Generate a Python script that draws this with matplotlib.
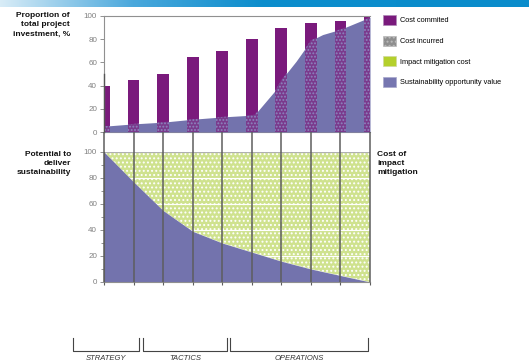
import numpy as np
import matplotlib
matplotlib.use('Agg')
import matplotlib.pyplot as plt
from matplotlib.patches import Patch
from matplotlib.lines import Line2D

plt.rcParams['font.family'] = ['Liberation Sans', 'DejaVu Sans']

# Données
stages = np.arange(10)
cost_committed = [40, 45, 50, 65, 70, 80, 90, 94, 96, 100]

opp_x = [0, 1, 2, 3, 4, 5, 5.1, 5.8, 6, 6.5, 7, 7.4, 8, 9]
opp_y = [5, 7, 8.5, 11, 13, 14.5, 15, 36, 45, 61, 79, 84, 88.5, 99]

potential = [100, 77, 55, 39, 30, 23, 16, 10, 5, 0]

phases = ['STRATEGY', 'TACTICS', 'OPERATIONS']
phase_px = [(73, 139), (143, 227), (230, 368)]

legend_labels = ['Cost commited', 'Cost incurred', 'Impact mitigation cost',
                 'Sustainability opportunity value']

purple = '#7a1a7c'
blue = '#7373ad'
green = '#cfe28e'
grey_txt = '#808080'

W, H = 529, 361
fig = plt.figure(figsize=(W / 100, H / 100), dpi=100)

def fx(px):
    return px / W

def fy(py):
    return 1 - py / H

# bandeau bleu en haut
band = fig.add_axes([0, fy(7), 1, 7 / H])
grad = np.linspace(0, 1, 256).reshape(1, -1)
cmap = matplotlib.colors.LinearSegmentedColormap.from_list(
    'b', ['#d8ecf7', '#4aa8dc', '#0b8dcc', '#0b8dcc', '#0a8ccb'])
band.imshow(grad, aspect='auto', cmap=cmap, extent=[0, 1, 0, 1])
band.axis('off')

plt.rcParams['hatch.linewidth'] = 0.9

# --- graphique du haut
ax1 = fig.add_axes([fx(104), fy(132), fx(266), 116 / H])
ax1.bar(stages, cost_committed, width=0.4, color=purple, zorder=2)
area = ax1.fill_between(opp_x, 0, opp_y, color=blue, lw=0, zorder=3)
over = ax1.bar(stages, cost_committed, width=0.4, color='#7a3a8c',
               edgecolor='#8c86c0', linewidth=0, hatch='.....', zorder=4)
clip = area.get_paths()[0]
for b in over:
    b.set_clip_path(clip, ax1.transData)

ax1.set_xlim(0, 9)
ax1.set_ylim(0, 100)
ax1.set_yticks(range(0, 101, 20))
ax1.set_xticks([])
ax1.tick_params(axis='y', labelsize=5.8, colors=grey_txt, length=3, width=0.6, pad=2)
for s in ['top', 'left', 'bottom']:
    ax1.spines[s].set_color('#909090')
    ax1.spines[s].set_linewidth(0.8)
ax1.spines['right'].set_visible(False)
ax1.plot([0, 0], [0, 50], color='#555555', lw=1, zorder=5, clip_on=False)

# --- graphique du bas
ax2 = fig.add_axes([fx(104), fy(282), fx(266), 130 / H])
ax2.fill_between(stages, potential, 100, facecolor=green, edgecolor='white',
                 hatch='....', linewidth=0, zorder=1)
ax2.fill_between(stages, 0, potential, color=blue, lw=0, zorder=2)
for yv in range(20, 101, 20):
    ax2.axhline(yv, color='white', lw=0.8, zorder=1.5)
ax2.vlines(stages, 0, 115.5, color='#5e5e5e', lw=1.1, zorder=3, clip_on=False)
ax2.vlines(stages, -2, 0, color='#5e5e5e', lw=0.8, zorder=3, clip_on=False)
ax2.set_xlim(0, 9)
ax2.set_ylim(0, 100)
ax2.set_yticks(range(0, 101, 20))
ax2.set_yticks(range(10, 100, 20), minor=True)
ax2.set_xticks([])
ax2.tick_params(axis='y', which='both', labelsize=5.8, colors=grey_txt,
                length=3, width=0.6, pad=2)
ax2.tick_params(axis='y', which='minor', length=2)
for s in ['top', 'right']:
    ax2.spines[s].set_visible(False)
ax2.spines['left'].set_color('#606060')
ax2.spines['bottom'].set_color('#909090')
ax2.plot([0, 9], [100, 100], color='#b0b0b0', lw=0.8, zorder=2.5)

# textes
bold = dict(fontsize=6, fontweight='bold', color='#111111', linespacing=1.45)
fig.text(fx(70), fy(12), 'Proportion of\ntotal project\ninvestment, %',
         ha='right', va='top', **bold)
fig.text(fx(71), fy(151), 'Potential to\ndeliver\nsustainability',
         ha='right', va='top', **bold)
fig.text(fx(377), fy(151), 'Cost of\nimpact\nmitigation',
         ha='left', va='top', **bold)

# légende
handles = [Patch(facecolor=purple, edgecolor='#b08ab8', lw=0.5),
           Patch(facecolor='#8e8e8e', edgecolor='#bbbbbb', hatch='....', lw=0.5),
           Patch(facecolor='#b4d02c', edgecolor='#cfd8a0', lw=0.5),
           Patch(facecolor='#7676b0', edgecolor='#a8a8cc', lw=0.5)]
fig.legend(handles, legend_labels, loc='upper left',
           bbox_to_anchor=(fx(383), fy(15)), frameon=False, fontsize=5.3,
           handlelength=1.7, handleheight=1.7, labelspacing=1.45,
           handletextpad=0.6, borderpad=0, borderaxespad=0)

# accolades des phases
for name, (x0, x1) in zip(phases, phase_px):
    fig.add_artist(Line2D([fx(x0), fx(x0), fx(x1), fx(x1)],
                          [fy(338), fy(351), fy(351), fy(338)],
                          color='#444444', lw=0.8))
    fig.text(fx((x0 + x1) / 2), fy(355), name, ha='center', va='top',
             fontsize=5.5, style='italic', color='#333333')

plt.savefig('out.png', dpi=100)
